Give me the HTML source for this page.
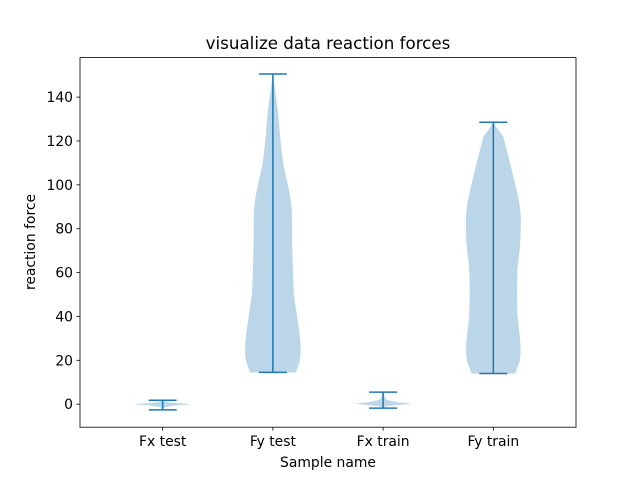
<!DOCTYPE html>
<html><head><meta charset="utf-8"><style>
body{margin:0;background:#fff;font-family:"Liberation Sans","DejaVu Sans",sans-serif}
text{font-family:"DejaVu Sans","Liberation Sans",sans-serif}
</style></head><body>
<svg id="chart" width="640" height="480" viewBox="0 0 640 480" xmlns="http://www.w3.org/2000/svg">
<rect width="640" height="480" fill="#fff"/>
<g id="plot"></g>
<rect x="80" y="57.6" width="496" height="369.6" fill="none" stroke="#000" stroke-width="0.8"/>
<g id="axes"></g>
<text x="328" y="49" text-anchor="middle" font-size="16.7">visualize data reaction forces</text>
<text x="328" y="467" text-anchor="middle" font-size="13.9">Sample name</text>
<text transform="translate(35,242) rotate(-90)" text-anchor="middle" font-size="13.9">reaction force</text>
</svg>
<script>
const categories = ["Fx test","Fy test","Fx train","Fy train"];
const mins = [-2.6, 14.5, -1.8, 14];
const maxs = [1.8, 150.5, 5.5, 128.5];
// density profiles: value levels and half-widths (in x-axis units)
const fxTestLevels = [-2.6, -1.5, -0.5, 0, 0.5, 1.0, 1.8];
const fxTestWidths = [0.005, 0.02, 0.12, 0.25, 0.12, 0.03, 0.005];
const fyTestLevels = [14.5, 20, 28, 40, 50.6, 73, 91.6, 111, 134, 150.5];
const fyTestWidths = [0.21, 0.245, 0.25, 0.22, 0.19, 0.175, 0.165, 0.09, 0.045, 0.005];
const fxTrainLevels = [-1.8, -1, -0.3, 0.2, 0.8, 2, 3.5, 5.5];
const fxTrainWidths = [0.005, 0.03, 0.15, 0.25, 0.14, 0.04, 0.015, 0.005];
const fyTrainLevels = [14, 20, 28, 40, 50.6, 62, 73, 88, 104, 122, 128.5];
const fyTrainWidths = [0.2, 0.24, 0.245, 0.22, 0.215, 0.22, 0.243, 0.245, 0.18, 0.09, 0.005];
const yTicks = [0, 20, 40, 60, 80, 100, 120, 140];
const levels = [fxTestLevels, fyTestLevels, fxTrainLevels, fyTrainLevels];
const widths = [fxTestWidths, fyTestWidths, fxTrainWidths, fyTrainWidths];

const X0=80,X1=576,Y0=57.6,Y1=427.2, xmin=0.25,xmax=4.75, ymin=-10.5,ymax=158;
const sx=v=>X0+(v-xmin)/(xmax-xmin)*(X1-X0);
const sy=v=>Y1-(v-ymin)/(ymax-ymin)*(Y1-Y0);
const NS="http://www.w3.org/2000/svg";
const plot=document.getElementById('plot'), axes=document.getElementById('axes');
function mk(tag,attrs,parent){const e=document.createElementNS(NS,tag);for(const k in attrs)e.setAttribute(k,attrs[k]);parent.appendChild(e);return e;}
function smooth(L,W){ // catmull-rom sample of widths over levels
  const out=[];const n=L.length;
  for(let j=0;j<n-1;j++){
    const w0=W[Math.max(j-1,0)],w1=W[j],w2=W[j+1],w3=W[Math.min(j+2,n-1)];
    for(let s=0;s<8;s++){const t=s/8,t2=t*t,t3=t2*t;
      const w=0.5*((2*w1)+(-w0+w2)*t+(2*w0-5*w1+4*w2-w3)*t2+(-w0+3*w1-3*w2+w3)*t3);
      out.push([L[j]+(L[j+1]-L[j])*t,Math.max(w,0.003)]);}
  }
  out.push([L[n-1],W[n-1]]);return out;
}
const C="#1f77b4";
categories.forEach((c,i)=>{
  const pos=i+1, S=smooth(levels[i],widths[i]);
  let pts=[];
  for(let j=0;j<S.length;j++) pts.push(sx(pos-S[j][1])+","+sy(S[j][0]));
  for(let j=S.length-1;j>=0;j--) pts.push(sx(pos+S[j][1])+","+sy(S[j][0]));
  const p=mk('polygon',{points:pts.join(' '),fill:C,'fill-opacity':0.3},plot);
  
  
  const cx=sx(pos);
  const ln=mk('line',{x1:cx,x2:cx,y1:sy(mins[i]),y2:sy(maxs[i]),stroke:C,'stroke-width':1.5},plot);
  
  
  [mins[i],maxs[i]].forEach((v,k)=>{
    const cap=mk('line',{x1:cx-14,x2:cx+14,y1:sy(v),y2:sy(v),stroke:C,'stroke-width':1.5},plot);
    
    
  });
  const t=mk('line',{x1:cx,x2:cx,y1:Y1,y2:Y1+3.5,stroke:'#000','stroke-width':0.8},axes);
  
  
  const tx=mk('text',{x:cx,y:Y1+19,'text-anchor':'middle','font-size':13.9},axes);
  
  
  tx.textContent=c;
});
yTicks.forEach(v=>{
  const y=sy(v);
  const t=mk('line',{x1:X0-3.5,x2:X0,y1:y,y2:y,stroke:'#000','stroke-width':0.8},axes);
  
  
  const tx=mk('text',{x:X0-7,y:y+5,'text-anchor':'end','font-size':13.9},axes);
  
  
  tx.textContent=v;
});
</script>
</body></html>
